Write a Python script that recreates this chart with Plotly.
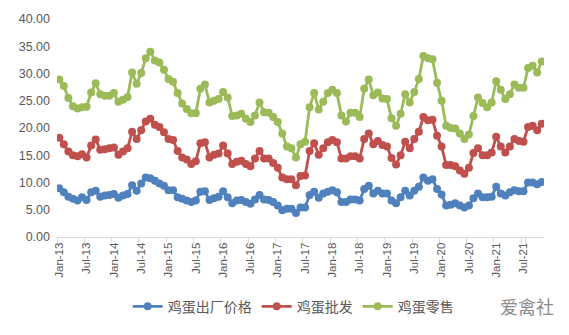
import pandas as pd
import plotly.graph_objects as go

# Monthly egg prices, Jan 2013 - Nov 2021 (yuan/kg)
months = pd.date_range("2013-01-01", "2021-11-01", freq="MS").strftime("%b-%y").tolist()

ex_factory = [8.95, 8.2, 7.4, 7.0, 6.7, 7.3, 6.8, 8.2, 8.5, 7.4, 7.6, 7.7,
              7.9, 7.2, 7.6, 7.9, 9.5, 8.5, 9.8, 10.9, 10.8, 10.3, 9.8, 9.4,
              8.6, 8.6, 7.3, 7.0, 6.7, 6.4, 6.7, 8.3, 8.4, 6.8, 7.1, 7.4,
              8.4, 7.3, 6.2, 6.7, 6.8, 6.4, 6.1, 6.9, 7.7, 6.9, 6.8, 6.4,
              5.8, 4.9, 5.2, 5.2, 4.4, 5.4, 5.4, 7.7, 8.3, 7.2, 8.0, 8.3,
              8.6, 8.2, 6.4, 6.4, 6.9, 6.9, 6.7, 8.8, 9.4, 8.0, 8.5, 8.0,
              8.0, 6.7, 6.2, 7.3, 8.5, 7.6, 8.5, 9.2, 10.9, 10.3, 10.6, 8.8,
              7.8, 5.8, 5.9, 6.2, 5.8, 5.4, 5.8, 7.1, 8.0, 7.3, 7.3, 7.4,
              9.2, 8.0, 7.6, 8.2, 8.6, 8.4, 8.4, 10.0, 10.0, 9.7, 10.1]

wholesale = [18.2, 17.0, 15.7, 15.0, 14.8, 15.2, 14.6, 16.8, 17.9, 16.0, 16.1, 16.3,
             16.4, 15.1, 15.7, 16.3, 19.3, 18.0, 19.6, 21.2, 21.7, 20.6, 20.2, 19.2,
             18.0, 17.8, 15.8, 14.6, 14.2, 13.4, 13.9, 17.2, 17.4, 14.6, 15.1, 15.3,
             16.8, 15.3, 13.4, 13.8, 14.0, 13.4, 13.0, 14.4, 15.8, 14.4, 14.4, 13.6,
             12.7, 10.9, 10.6, 10.6, 9.5, 11.2, 11.3, 15.8, 17.2, 15.1, 16.3, 17.4,
             17.8, 17.4, 14.4, 14.4, 14.8, 14.8, 14.4, 18.0, 19.0, 17.0, 17.6, 16.9,
             16.6, 14.5, 13.3, 15.0, 17.5, 16.3, 18.0, 19.3, 22.0, 21.4, 21.5, 18.6,
             16.6, 13.2, 13.2, 13.0, 12.2, 11.6, 12.7, 15.4, 16.3, 15.0, 15.0, 15.5,
             18.4, 16.6, 15.5, 16.6, 18.0, 17.6, 17.5, 20.2, 20.4, 19.6, 20.8]

retail = [28.9, 27.7, 25.5, 24.0, 23.6, 23.8, 23.9, 26.5, 28.2, 26.2, 25.9, 25.9,
          26.4, 24.8, 25.2, 25.7, 30.2, 28.1, 30.1, 32.8, 34.0, 32.4, 32.0, 30.7,
          29.0, 28.5, 26.4, 24.5, 23.5, 22.7, 22.7, 27.2, 28.0, 24.7, 25.0, 25.3,
          26.6, 25.6, 22.2, 22.3, 22.6, 21.7, 21.1, 22.3, 24.7, 22.9, 22.8, 22.0,
          21.1, 19.0, 16.6, 16.3, 14.6, 17.0, 17.5, 23.8, 26.4, 23.4, 24.8, 26.4,
          27.0, 26.4, 22.3, 21.2, 22.8, 22.8, 22.0, 27.2, 28.9, 26.0, 26.5, 25.4,
          25.3, 21.8, 20.4, 22.6, 26.2, 24.7, 26.6, 29.0, 33.2, 32.8, 32.6, 28.3,
          25.0, 20.4, 20.0, 19.9, 19.0, 18.0, 18.8, 22.2, 25.6, 24.6, 23.8, 24.7,
          28.6, 27.0, 25.3, 26.2, 28.0, 27.4, 27.4, 31.0, 31.4, 30.2, 32.2]

series_names = ["鸡蛋出厂价格", "鸡蛋批发", "鸡蛋零售"]
series_colors = ["#4F81BD", "#C0504D", "#9BBB59"]
tick_labels = months[::6]

fig = go.Figure()
for name, vals, color in zip(series_names, [ex_factory, wholesale, retail], series_colors):
    fig.add_trace(go.Scatter(
        x=months, y=vals, name=name, mode="lines+markers",
        line=dict(color=color, width=2.8),
        marker=dict(color=color, size=8),
    ))

fig.update_layout(
    width=569, height=335,
    margin=dict(l=57, r=25, t=16, b=98),
    paper_bgcolor="white", plot_bgcolor="white",
    font=dict(family="Noto Sans CJK SC, DejaVu Sans, sans-serif", color="#595959", size=11),
    showlegend=True,
    legend=dict(orientation="h", x=0.485, xanchor="center", y=-0.32, yanchor="middle",
                font=dict(size=14, color="#595959"), itemwidth=30,
                tracegroupgap=0),
)

fig.update_xaxes(
    type="category", categoryorder="array", categoryarray=months,
    range=[-0.5, len(months) - 0.5],
    tickmode="array", tickvals=tick_labels, ticktext=tick_labels,
    tickangle=-90, tickson="boundaries",
    ticks="outside", ticklen=5, tickcolor="#d9d9d9",
    showline=True, linecolor="#d9d9d9", linewidth=1,
    showgrid=False, zeroline=False,
    tickfont=dict(family="Liberation Sans, Arial, sans-serif", size=11.5, color="#595959"),
)
fig.update_yaxes(
    range=[0, 40], dtick=5, tickformat=".2f",
    showgrid=False, zeroline=False, showline=False,
    ticks="", ticklabelstandoff=6,
    tickfont=dict(family="Liberation Sans, Arial, sans-serif", size=12.5, color="#595959"),
)

# Watermark
fig.add_annotation(
    xref="paper", yref="paper", x=1.025, y=-0.315, xanchor="right", yanchor="middle",
    text="爱禽社", showarrow=False,
    font=dict(family="Noto Sans CJK SC", size=18, color="#8c8c8c"),
)

fig.write_html("out.html")
